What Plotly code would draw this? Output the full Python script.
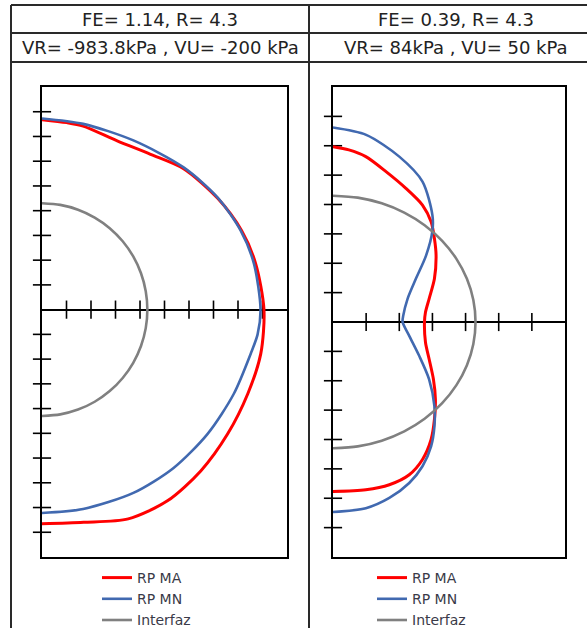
import math
import plotly.graph_objects as go

# ---------------- data ----------------
HEAD_LEFT = ["FE= 1.14, R= 4.3", "VR= -983.8kPa , VU= -200 kPa"]
HEAD_RIGHT = ["FE= 0.39, R= 4.3", "VR= 84kPa , VU= 50 kPa"]
SERIES = ["RP MA", "RP MN", "Interfaz"]

# interface radius and sampling angles (degrees) of the half circle
R_INTERFAZ = 4.3
ANGLES_DEG = [90, 80, 70, 60, 50, 40, 30, 20, 10, 0,
              -10, -20, -30, -40, -50, -60, -70, -80, -90]

# left panel (FE = 1.14)
L_MA_X = [0.00, 1.01, 1.68, 3.07, 4.43, 5.78, 7.17, 8.15, 8.72, 9.06,
          8.93, 8.40, 7.58, 6.48, 5.12, 3.52, 1.70, 0.00]
L_MA_Y = [7.68, 7.56, 7.42, 6.82, 6.28, 5.70, 4.50, 3.19, 1.86, 0.00,
          -1.78, -3.40, -5.02, -6.52, -7.73, -8.46, -8.60, -8.66]
L_MN_X = [0.00, 1.68, 3.73, 5.78, 7.17, 8.11, 8.65, 8.92,
          8.80, 8.52, 7.83, 6.76, 5.37, 3.73, 1.68, 0.00]
L_MN_Y = [7.73, 7.51, 6.84, 5.75, 4.53, 3.19, 1.86, 0.00,
          -1.00, -1.78, -3.40, -5.02, -6.40, -7.41, -8.06, -8.22]

# right panel (FE = 0.39)
R_MA_X = [0.00, 0.48, 0.99, 1.60, 2.20, 2.70, 2.96, 3.06, 3.11, 3.06, 2.90, 2.79, 2.76,
          2.79, 2.90, 3.03, 3.09, 3.06, 2.96, 2.70, 2.30, 1.70, 0.99, 0.00]
R_MA_Y = [5.97, 5.86, 5.63, 5.12, 4.55, 3.98, 3.41, 2.84, 2.27, 1.47, 0.79, 0.33, 0.00,
          -0.69, -1.26, -1.95, -2.63, -3.32, -4.00, -4.68, -5.20, -5.54, -5.71, -5.77]
R_MN_X = [0.00, 1.00, 2.00, 2.70, 3.00, 3.00, 2.81, 2.50, 2.25, 2.12, 2.10,
          2.30, 2.60, 2.90, 3.06, 3.06, 2.96, 2.70, 2.30, 1.70, 0.99, 0.00]
R_MN_Y = [6.62, 6.37, 5.63, 4.78, 3.63, 3.11, 2.27, 1.47, 0.79, 0.22, 0.00,
          -0.47, -1.15, -1.95, -2.86, -3.55, -4.23, -4.91, -5.48, -5.99, -6.34, -6.47]

# axis ranges and tick positions
L_XRANGE, L_YRANGE = [0, 10], [-10, 9]
R_XRANGE, R_YRANGE = [0, 7], [-8, 8]
L_XTICKS = [1, 2, 3, 4, 5, 6, 7, 8, 9]
L_YTICKS = [-9, -8, -7, -6, -5, -4, -3, -2, -1, 1, 2, 3, 4, 5, 6, 7, 8]
R_XTICKS = [1, 2, 3, 4, 5, 6]
R_YTICKS = [-7, -6, -5, -4, -3, -2, -1, 1, 2, 3, 4, 5, 6, 7]

# ---------------- styling ----------------
W, H = 587, 628
COLORS = {"RP MA": "#ff0000", "RP MN": "#4169b0", "Interfaz": "#808080"}
WIDTHS = {"RP MA": 3, "RP MN": 2.6, "Interfaz": 2.6}
FONT = "DejaVu Sans"


def px(x):
    return x / W


def py(y):
    return 1 - y / H


interfaz_x = [R_INTERFAZ * math.cos(math.radians(a)) for a in ANGLES_DEG]
interfaz_y = [R_INTERFAZ * math.sin(math.radians(a)) for a in ANGLES_DEG]

fig = go.Figure()

panels = [
    dict(xa="x", ya="y", legend="legend", xt=L_XTICKS, yt=L_YTICKS,
         curves={"RP MA": (L_MA_X, L_MA_Y), "RP MN": (L_MN_X, L_MN_Y),
                 "Interfaz": (interfaz_x, interfaz_y)}),
    dict(xa="x2", ya="y2", legend="legend2", xt=R_XTICKS, yt=R_YTICKS,
         curves={"RP MA": (R_MA_X, R_MA_Y), "RP MN": (R_MN_X, R_MN_Y),
                 "Interfaz": (interfaz_x, interfaz_y)}),
]

for p in panels:
    # cross tick marks on the axes through the origin
    fig.add_trace(go.Scatter(
        x=p["xt"], y=[0] * len(p["xt"]), mode="markers", xaxis=p["xa"], yaxis=p["ya"],
        marker=dict(symbol="line-ns", size=13, line=dict(width=1.6, color="black")),
        showlegend=False, hoverinfo="skip", cliponaxis=False))
    fig.add_trace(go.Scatter(
        x=[0] * len(p["yt"]), y=p["yt"], mode="markers", xaxis=p["xa"], yaxis=p["ya"],
        marker=dict(symbol="line-ew", size=13, line=dict(width=1.6, color="black")),
        showlegend=False, hoverinfo="skip", cliponaxis=False))
    for name in SERIES:
        cx, cy = p["curves"][name]
        fig.add_trace(go.Scatter(
            x=cx, y=cy, mode="lines", name=name, xaxis=p["xa"], yaxis=p["ya"],
            line=dict(color=COLORS[name], width=WIDTHS[name], shape="spline", smoothing=0.8),
            legend=p["legend"]))

axis_common = dict(showgrid=False, showticklabels=False, ticks="", showline=True,
                   mirror=True, linecolor="black", linewidth=2)

legend_common = dict(xanchor="left", yanchor="top",
                     font=dict(family=FONT, size=14, color="#3a3a48"),
                     bgcolor="rgba(0,0,0,0)", tracegroupgap=0)

fig.update_layout(
    width=W, height=H,
    margin=dict(l=0, r=0, t=0, b=0, autoexpand=False),
    paper_bgcolor="white", plot_bgcolor="white",
    font=dict(family=FONT, color="#333333"),
    xaxis=dict(domain=[px(42), px(287)], range=L_XRANGE, zeroline=False, **axis_common),
    yaxis=dict(domain=[py(557), py(87)], range=L_YRANGE, zeroline=True,
               zerolinecolor="black", zerolinewidth=1.8, **axis_common),
    xaxis2=dict(domain=[px(333), px(565)], range=R_XRANGE, zeroline=False,
                anchor="y2", **axis_common),
    yaxis2=dict(domain=[py(557), py(87)], range=R_YRANGE, zeroline=True,
                zerolinecolor="black", zerolinewidth=1.8, anchor="x2", **axis_common),
    legend=dict(x=px(97), y=py(562), **legend_common),
    legend2=dict(x=px(372), y=py(562), **legend_common),
    showlegend=True,
)

# table frame around the two panels
line_style = dict(color="#2a2a2a", width=2)
table_lines = [
    (11, 5, 587, 5), (11, 33, 587, 33), (11, 62, 587, 62),
    (11, 5, 11, 628), (309, 5, 309, 628),
]
for x0, y0, x1, y1 in table_lines:
    fig.add_shape(type="line", xref="paper", yref="paper",
                  x0=px(x0), y0=py(y0), x1=px(x1), y1=py(y1), line=line_style)

# header texts
for cx, texts in ((160, HEAD_LEFT), (456, HEAD_RIGHT)):
    for cy, t in zip((19, 47.5), texts):
        fig.add_annotation(x=px(cx), y=py(cy), xref="paper", yref="paper",
                           text=t, showarrow=False, xanchor="center", yanchor="middle",
                           font=dict(family=FONT, size=18, color="#222222"))

fig.write_html("out.html")
